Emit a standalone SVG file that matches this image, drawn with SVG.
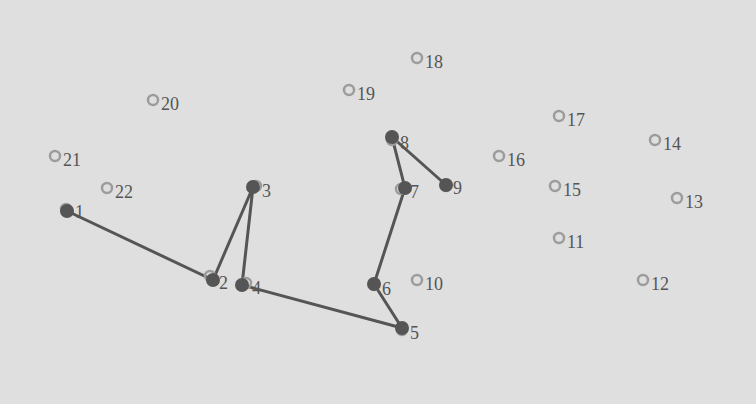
<svg xmlns="http://www.w3.org/2000/svg" width="756" height="404" viewBox="0 0 756 404">
<style>
.ring{fill:none;stroke:#9c9c9c;stroke-width:2.5}
.dot{fill:#555}
.lbl{font-family:"Liberation Serif",serif;font-size:18px;fill:#555}
.edge{stroke:#555;stroke-width:3;fill:none}
</style>
<rect width="756" height="404" fill="#dfdfdf"/>
<g id="connectors">
<polyline class="edge" points="67,211 213,280 253,187 242,285 402,328 374,284 405,188 392,137 446,185"/>
</g>
<g id="n1"><circle class="ring" cx="66" cy="209" r="5"/><circle class="dot" cx="67" cy="211" r="7"/><text class="lbl" x="75" y="218">1</text></g>
<g id="n2"><circle class="ring" cx="210" cy="276" r="5"/><circle class="dot" cx="213" cy="280" r="7"/><text class="lbl" x="219" y="289">2</text></g>
<g id="n3"><circle class="ring" cx="256" cy="186" r="5"/><circle class="dot" cx="253" cy="187" r="7"/><text class="lbl" x="262" y="197">3</text></g>
<g id="n4"><circle class="ring" cx="246" cy="283" r="5"/><circle class="dot" cx="242" cy="285" r="7"/><text class="lbl" x="252" y="294">4</text></g>
<g id="n5"><circle class="ring" cx="402" cy="330" r="5"/><circle class="dot" cx="402" cy="328" r="7"/><text class="lbl" x="410" y="339">5</text></g>
<g id="n6"><circle class="ring" cx="374" cy="285" r="5"/><circle class="dot" cx="374" cy="284" r="7"/><text class="lbl" x="382" y="295">6</text></g>
<g id="n7"><circle class="ring" cx="401" cy="189" r="5"/><circle class="dot" cx="405" cy="188" r="7"/><text class="lbl" x="410" y="198">7</text></g>
<g id="n8"><circle class="ring" cx="392" cy="140" r="5"/><circle class="dot" cx="392" cy="137" r="7"/><text class="lbl" x="400" y="149">8</text></g>
<g id="n9"><circle class="ring" cx="446" cy="186" r="5"/><circle class="dot" cx="446" cy="185" r="7"/><text class="lbl" x="453" y="194">9</text></g>
<g id="n10"><circle class="ring" cx="417" cy="280" r="5"/><text class="lbl" x="425" y="290">10</text></g>
<g id="n11"><circle class="ring" cx="559" cy="238" r="5"/><text class="lbl" x="567" y="248">11</text></g>
<g id="n12"><circle class="ring" cx="643" cy="280" r="5"/><text class="lbl" x="651" y="290">12</text></g>
<g id="n13"><circle class="ring" cx="677" cy="198" r="5"/><text class="lbl" x="685" y="208">13</text></g>
<g id="n14"><circle class="ring" cx="655" cy="140" r="5"/><text class="lbl" x="663" y="150">14</text></g>
<g id="n15"><circle class="ring" cx="555" cy="186" r="5"/><text class="lbl" x="563" y="196">15</text></g>
<g id="n16"><circle class="ring" cx="499" cy="156" r="5"/><text class="lbl" x="507" y="166">16</text></g>
<g id="n17"><circle class="ring" cx="559" cy="116" r="5"/><text class="lbl" x="567" y="126">17</text></g>
<g id="n18"><circle class="ring" cx="417" cy="58" r="5"/><text class="lbl" x="425" y="68">18</text></g>
<g id="n19"><circle class="ring" cx="349" cy="90" r="5"/><text class="lbl" x="357" y="100">19</text></g>
<g id="n20"><circle class="ring" cx="153" cy="100" r="5"/><text class="lbl" x="161" y="110">20</text></g>
<g id="n21"><circle class="ring" cx="55" cy="156" r="5"/><text class="lbl" x="63" y="166">21</text></g>
<g id="n22"><circle class="ring" cx="107" cy="188" r="5"/><text class="lbl" x="115" y="198">22</text></g>
</svg>
